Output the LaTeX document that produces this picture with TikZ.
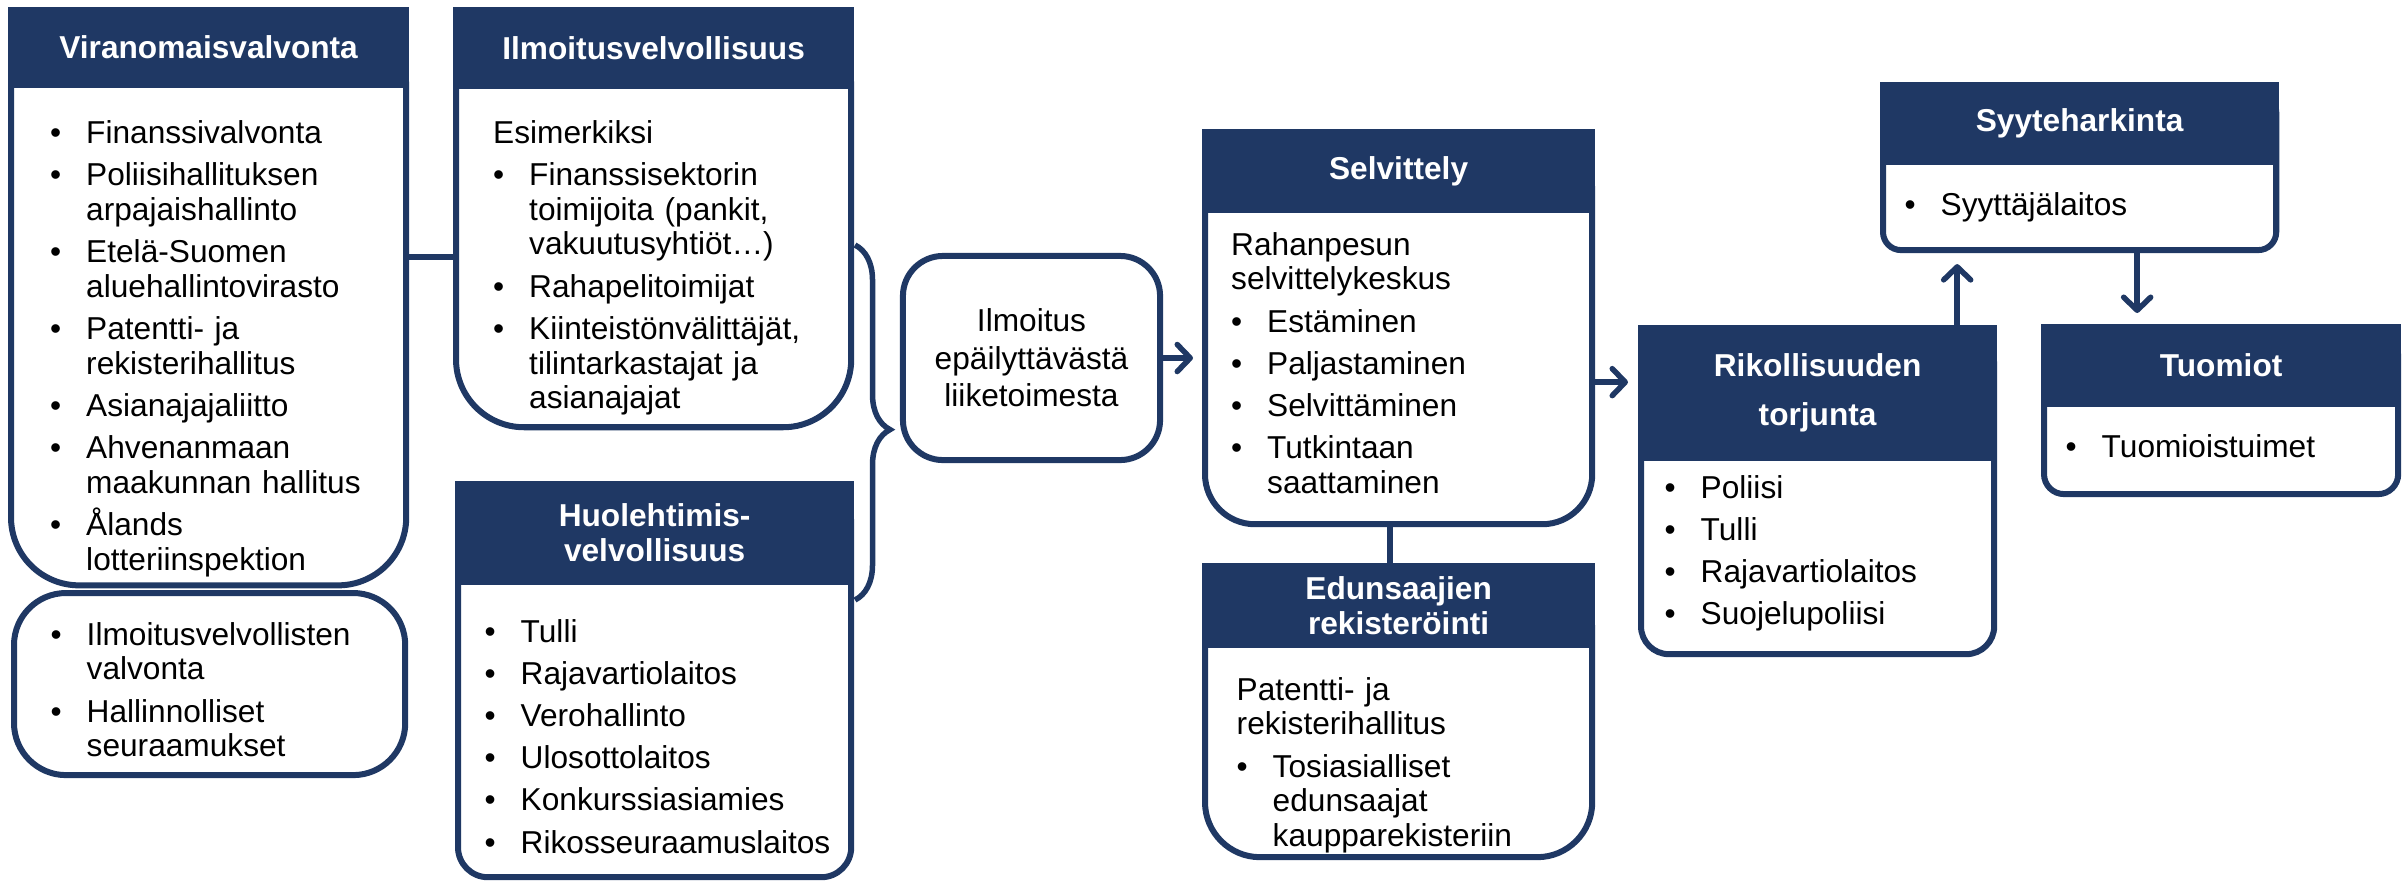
\documentclass[tikz,border=0pt]{standalone}
\usepackage{fontspec}
\setmainfont{Liberation Sans}
\usetikzlibrary{arrows.meta,decorations.pathreplacing}
\definecolor{navy}{HTML}{1F3864}
\newcommand\itm[1]{\hangindent=0.36cm\hangafter=1\makebox[0.36cm][l]{\textbullet}#1\par}

\begin{document}
\begin{tikzpicture}[x=0.01cm,y=-0.01cm,
  head/.style={fill=navy,text=white,inner sep=0pt,outer sep=0pt,anchor=north west,align=center,font=\fontsize{9}{9.9}\selectfont\bfseries},
  body/.style={draw=navy,fill=white,line width=0.06cm,inner sep=0pt,anchor=north west},
  txt/.style={anchor=base west,inner sep=0pt,text width=3.6cm,font=\fontsize{9}{9.9}\selectfont,execute at begin node=\setlength{\parskip}{2.1pt}},
  link/.style={draw=navy,line width=0.055cm},
  arr/.style={link,-{Straight Barb[length=0.13cm,width=0.27cm,round]}}]
\useasboundingbox (0,0) rectangle (2402,881);

\node[body,minimum width=3.95cm,minimum height=5.66cm,rounded corners=0.68cm] (viran) at (8,16) {};
\node[head,minimum width=4.01cm,minimum height=0.81cm] (viranh) at (8,7) {Viranomaisvalvonta};
\node[txt] (virant) at (49.5,143) {\itm{Finanssivalvonta}\itm{Poliisihallituksen\newline arpajaishallinto}\itm{Etelä-Suomen\newline aluehallintovirasto}\itm{Patentti- ja\newline rekisterihallitus}\itm{Asianajajaliitto}\itm{Ahvenanmaan\newline maakunnan hallitus}\itm{Ålands\newline lotteriinspektion}};

\node[body,minimum width=3.91cm,minimum height=1.82cm,rounded corners=0.52cm] (valv) at (11,590) {};
\node[txt] (valvt) at (50,645) {\itm{Ilmoitusvelvollisten\newline valvonta}\itm{Hallinnolliset\newline seuraamukset}};

\node[body,minimum width=3.95cm,minimum height=4.08cm,rounded corners=0.68cm] (ilmo) at (453,16) {};
\node[head,minimum width=4.01cm,minimum height=0.82cm] (ilmoh) at (453,7) {Ilmoitusvelvollisuus};
\node[txt] (ilmot) at (492.5,143) {Esimerkiksi\par\itm{Finanssisektorin\newline toimijoita (pankit,\newline vakuutusyhtiöt…)}\itm{Rahapelitoimijat}\itm{Kiinteistönvälittäjät,\newline tilintarkastajat ja\newline asianajajat}};

\node[body,minimum width=3.93cm,minimum height=3.84cm,rounded corners=0.30cm] (huol) at (455,490) {};
\node[head,minimum width=3.99cm,minimum height=1.04cm] (huolh) at (455,481) {Huolehtimis-\\velvollisuus};
\node[txt] (huolt) at (484,642) {\itm{Tulli}\itm{Rajavartiolaitos}\itm{Verohallinto}\itm{Ulosottolaitos}\itm{Konkurssiasiamies}\itm{Rikosseuraamuslaitos}};

\node[body,anchor=center,minimum width=2.57cm,minimum height=2.04cm,rounded corners=0.40cm,align=center,font=\fontsize{9}{10.7}\selectfont] (ilm) at (1031.5,358) {Ilmoitus\\epäilyttävästä\\liiketoimesta};

\node[body,minimum width=3.87cm,minimum height=3.83cm,rounded corners=0.50cm] (selv) at (1202,138) {};
\node[head,minimum width=3.93cm,minimum height=0.84cm] (selvh) at (1202,129) {Selvittely};
\node[txt] (selvt) at (1230.5,255) {Rahanpesun\newline selvittelykeskus\par\itm{Estäminen}\itm{Paljastaminen}\itm{Selvittäminen}\itm{Tutkintaan\newline saattaminen}};

\node[body,minimum width=3.87cm,minimum height=2.82cm,rounded corners=0.55cm] (edun) at (1202,572) {};
\node[head,minimum width=3.93cm,minimum height=0.85cm] (edunh) at (1202,563) {Edunsaajien\\rekisteröinti};
\node[txt] (edunt) at (1236,700) {Patentti- ja\newline rekisterihallitus\par\itm{Tosiasialliset\newline edunsaajat\newline kaupparekisteriin}};

\node[body,minimum width=3.53cm,minimum height=3.17cm,rounded corners=0.28cm] (rik) at (1638,334) {};
\node[head,minimum width=3.59cm,minimum height=1.36cm] (rikh) at (1638,325) {Rikollisuuden\\[4pt]torjunta};
\node[txt] (rikt) at (1664,498) {\itm{Poliisi}\itm{Tulli}\itm{Rajavartiolaitos}\itm{Suojelupoliisi}};

\node[body,minimum width=3.93cm,minimum height=1.56cm,rounded corners=0.18cm] (syy) at (1880,91) {};
\node[head,minimum width=3.99cm,minimum height=0.83cm] (syyh) at (1880,82) {Syyteharkinta};
\node[txt] (syyt) at (1904,215) {\itm{Syyttäjälaitos}};

\node[body,minimum width=3.54cm,minimum height=1.58cm,rounded corners=0.20cm] (tuom) at (2041,333) {};
\node[head,minimum width=3.60cm,minimum height=0.83cm] (tuomh) at (2041,324) {Tuomiot};
\node[txt] (tuomt) at (2065,457) {\itm{Tuomioistuimet}};

\draw[link] ([yshift=0.45cm]viran.east)--([yshift=0.45cm]viran.east -| ilmo.west);
\coordinate (bt) at (855,245);
\coordinate (bb) at (855,600);
\draw[link,decorate,decoration={brace,amplitude=0.35cm,aspect=0.52}] (bt)--(bb);
\draw[arr,shorten >=0.09cm] (ilm.east)--(ilm.east -| selv.west);
\draw[arr,shorten >=0.10cm] ([yshift=-0.495cm]selv.east)--([yshift=-0.495cm]selv.east -| rik.west);
\draw[link] ([xshift=-0.085cm]selv.south)--([xshift=-0.085cm]selv.south |- edunh.north);
\draw[arr,shorten >=0.11cm] ([xshift=1.395cm]rikh.north)--([xshift=1.395cm]rikh.north |- syy.south);
\draw[arr,shorten >=0.11cm] ([xshift=0.575cm]syy.south)--([xshift=0.575cm]syy.south |- tuomh.north);
\end{tikzpicture}
\end{document}
